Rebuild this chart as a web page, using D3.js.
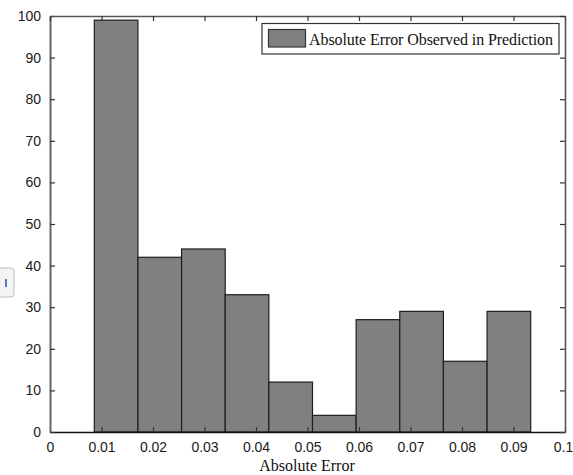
<!DOCTYPE html>
<head>
  <meta charset="utf-8">
  <script src="https://cdn.jsdelivr.net/npm/d3@7/dist/d3.min.js"></script>
  <style>
    body { margin:0; background:#fff; }
    .tick text { font-family: "Liberation Sans Narrow", "Liberation Sans", Arial, sans-serif; font-size: 14px; fill: #1a1a1a; }
    .serif { font-family: "Liberation Serif", "Times New Roman", serif; fill: #111; }
  </style>
</head>
<body>
  <script>
    // histogram of absolute error, 10 bins
    var binStart = 0.0086,
        binWidth = 0.008474;
    var counts = [99, 42, 44, 33, 12, 4, 27, 29, 17, 29];
    var xTicks = [0, 0.01, 0.02, 0.03, 0.04, 0.05, 0.06, 0.07, 0.08, 0.09, 0.1];
    var xTickLabels = ["0", "0.01", "0.02", "0.03", "0.04", "0.05", "0.06", "0.07", "0.08", "0.09", "0.1"];
    var yTicks = [0, 10, 20, 30, 40, 50, 60, 70, 80, 90, 100];
    var legendLabel = "Absolute Error Observed in Prediction";
    var xLabel = "Absolute Error";

    var width = 573,
        height = 475;
    var margin = {top: 16, right: 8, bottom: 43, left: 50};

    var svg = d3.select("body")
      .append("svg")
      .attr("width", width)
      .attr("height", height);

    var x = d3.scaleLinear().domain([0, 0.1]).range([margin.left, width - margin.right]);
    var y = d3.scaleLinear().domain([0, 100]).range([height - margin.bottom, margin.top]);

    var bins = counts.map(function(c, i) {
      return {x0: binStart + i * binWidth, x1: binStart + (i + 1) * binWidth, n: c};
    });

    // bars
    svg.append("g").selectAll("rect")
      .data(bins)
      .enter()
      .append("rect")
      .attr("x", function(d) { return x(d.x0); })
      .attr("width", function(d) { return x(d.x1) - x(d.x0); })
      .attr("y", function(d) { return y(d.n); })
      .attr("height", function(d) { return y(0) - y(d.n); })
      .style("fill", "#808080")
      .style("stroke", "#1e1e1e")
      .style("stroke-width", 1.2);

    // axes, ticks pointing inward (matlab style box)
    var xAxis = d3.axisBottom(x).tickValues(xTicks)
      .tickFormat(function(d, i) { return xTickLabels[i]; })
      .tickSizeInner(-5).tickSizeOuter(0).tickPadding(10);
    var gx = svg.append("g").attr("transform", "translate(0," + y(0) + ")").call(xAxis);

    var yAxis = d3.axisLeft(y).tickValues(yTicks)
      .tickSizeInner(-5).tickSizeOuter(0).tickPadding(9);
    var gy = svg.append("g").attr("transform", "translate(" + x(0) + ",0)").call(yAxis);

    var gTop = svg.append("g").attr("transform", "translate(0," + y(100) + ")")
      .call(d3.axisTop(x).tickValues(xTicks).tickSizeInner(-5).tickSizeOuter(0).tickFormat(""));
    var gRight = svg.append("g").attr("transform", "translate(" + x(0.1) + ",0)")
      .call(d3.axisRight(y).tickValues(yTicks).tickSizeInner(-5).tickSizeOuter(0).tickFormat(""));

    [gx, gy, gTop, gRight].forEach(function(g) {
      g.select(".domain").style("stroke", "#555").style("stroke-width", 1.6);
      g.selectAll(".tick line").style("stroke", "#333").style("stroke-width", 1.2);
    });
    gy.select(".domain").style("stroke", "#666").style("stroke-width", 2);
    gx.select(".domain").style("stroke", "#111").style("stroke-width", 1.6);
    gx.selectAll(".tick text").attr("dy", "0.71em");
    // keep the last label inside the picture
    gx.selectAll(".tick text").filter(function(d) { return d === 0.1; }).attr("dx", -2);

    // legend
    var lg = svg.append("g");
    lg.append("rect")
      .attr("x", 262).attr("y", 23.5)
      .attr("width", 297).attr("height", 30.5)
      .style("fill", "#fff").style("stroke", "#333").style("stroke-width", 1.2);
    lg.append("rect")
      .attr("x", 268.5).attr("y", 29.5)
      .attr("width", 37).attr("height", 17.5)
      .style("fill", "#808080").style("stroke", "#333").style("stroke-width", 1.2);
    lg.append("text")
      .attr("class", "serif")
      .attr("x", 309).attr("y", 45)
      .attr("textLength", 244)
      .style("font-size", "16px")
      .text(legendLabel);

    // x label
    svg.append("text")
      .attr("class", "serif")
      .attr("x", 307).attr("y", 471)
      .attr("text-anchor", "middle")
      .style("font-size", "16px")
      .text(xLabel);

    // little clipped widget at the left edge of the picture
    svg.append("rect")
      .attr("x", -6).attr("y", 268)
      .attr("width", 20).attr("height", 29).attr("rx", 3)
      .style("fill", "#f4f4f4").style("stroke", "#bbb");
    svg.append("rect")
      .attr("x", 5).attr("y", 279)
      .attr("width", 2).attr("height", 8)
      .style("fill", "#5a7ab8");
  </script>
</body>
